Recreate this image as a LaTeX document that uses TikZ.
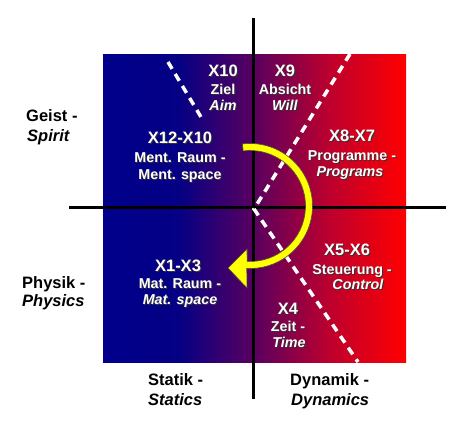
\documentclass[tikz,border=0pt]{standalone}
\usepackage{fontspec}
\setmainfont{Liberation Sans}
\definecolor{bgA}{RGB}{0,0,140}
\definecolor{bgB}{RGB}{5,0,132}
\definecolor{bgC}{RGB}{90,0,95}
\definecolor{bgD}{RGB}{190,0,45}
\definecolor{bgE}{RGB}{255,0,0}
\definecolor{arrowY}{RGB}{255,255,0}
\pgfdeclarehorizontalshading{quadshade}{100bp}{color(0bp)=(bgA); color(25bp)=(bgA); color(37.5bp)=(bgB); color(50bp)=(bgC); color(62.5bp)=(bgD); color(75bp)=(bgE); color(100bp)=(bgE)}
\newcommand\shd[1]{\leavevmode\rlap{\kern1pt\raisebox{-1pt}{\textcolor{black!80}{#1}}}#1}
\begin{document}
\begin{tikzpicture}[x=1pt,y=1pt,
  axisline/.style={line width=3pt, black},
  whitedash/.style={white, line width=3.5pt, dash pattern=on 8pt off 6pt},
  hdr/.style={font=\bfseries\fontsize{16.5}{18}\selectfont, text=white, inner sep=0pt, text height=0.72em, text depth=0pt},
  sub/.style={font=\bfseries\fontsize{14.3}{16}\selectfont, text=white, inner sep=0pt, text height=0.72em, text depth=0pt},
  outer/.style={font=\bfseries\fontsize{16.5}{18}\selectfont, text=black, inner sep=0pt, text height=0.72em, text depth=0pt, anchor=west}]
\useasboundingbox (0,0) rectangle (454,435);
\shade[shading=quadshade] (103,72) rectangle (406,380);
% axes
\coordinate (vT) at (253,417); \coordinate (vB) at (253,36);
\coordinate (hL) at (69,227); \coordinate (hR) at (446,227);
\draw[axisline] (vT) -- (vB);
\draw[axisline] (hL) -- (hR);
% dashed lines
\coordinate (aT) at (168,373); \coordinate (aB) at (201,318);
\coordinate (bT) at (350,381); \coordinate (bV) at (254,226); \coordinate (bB) at (358,73);
\draw[whitedash] (aT) -- (aB);
\draw[whitedash] (bT) -- (bV) -- (bB);
% yellow arrow
\filldraw[fill=arrowY, draw=black!70, line width=0.6pt, line join=miter, shift={(250,229)}]
  (97:62.5) arc[start angle=97, end angle=-93, radius=62.5]
  -- (-3,-82) -- (-22,-62) -- (-3,-43)
  -- (-93:55.5) arc[start angle=-93, end angle=97, radius=55.5] -- cycle;
% quadrant labels
\node[hdr] (x10) at (223,362) {\shd{X10}};
\node[sub] (x10a) at (223,344) {\shd{Ziel}};
\node[sub] (x10b) at (223,328) {\shd{\textit{Aim}}};
\node[hdr] (x9) at (285,362) {\shd{X9}};
\node[sub] (x9a) at (285,344) {\shd{Absicht}};
\node[sub] (x9b) at (285,328) {\shd{\textit{Will}}};
\node[hdr] (x12) at (180,295) {\shd{X12-X10}};
\node[sub] (x12a) at (180,276) {\shd{Ment. Raum -}};
\node[sub] (x12b) at (180,259) {\shd{Ment. space}};
\node[hdr] (x8) at (352,297) {\shd{X8-X7}};
\node[sub] (x8a) at (352,278) {\shd{Programme -}};
\node[sub] (x8b) at (350,262) {\shd{\textit{Programs}}};
\node[hdr] (x1) at (178,167) {\shd{X1-X3}};
\node[sub] (x1a) at (180,150) {\shd{Mat. Raum -}};
\node[sub] (x1b) at (180,134) {\shd{\textit{Mat. space}}};
\node[hdr] (x5) at (347,183) {\shd{X5-X6}};
\node[sub] (x5a) at (352,164) {\shd{Steuerung -}};
\node[sub] (x5b) at (358,149) {\shd{\textit{Control}}};
\node[hdr] (x4) at (288,124) {\shd{X4}};
\node[sub] (x4a) at (288,107) {\shd{Zeit -}};
\node[sub] (x4b) at (289,91) {\shd{\textit{Time}}};
% outer labels
\node[outer] (geist) at (26,317) {Geist -};
\node[outer] (spirit) at (27,297) {\textit{Spirit}};
\node[outer] (physik) at (22,150) {Physik -};
\node[outer] (physics) at (22,132) {\textit{Physics}};
\node[outer] (statik) at (148,53) {Statik -};
\node[outer] (statics) at (148,33) {\textit{Statics}};
\node[outer] (dynamik) at (290,53) {Dynamik -};
\node[outer] (dynamics) at (291,33) {\textit{Dynamics}};
\end{tikzpicture}
\end{document}
